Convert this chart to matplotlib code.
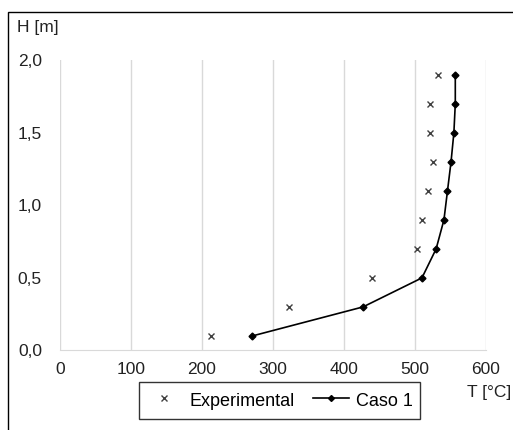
import matplotlib
matplotlib.use("Agg")
import matplotlib.pyplot as plt
from matplotlib.ticker import FuncFormatter, MultipleLocator
from matplotlib.lines import Line2D
from matplotlib.patches import Rectangle

plt.rcParams["font.family"] = ["Liberation Sans", "DejaVu Sans"]

# Height positions [m]
heights = [0.1, 0.3, 0.5, 0.7, 0.9, 1.1, 1.3, 1.5, 1.7, 1.9]
# Temperatures [°C]
t_experimental = [213, 323, 440, 503, 510, 519, 526, 522, 522, 532]
t_caso1 = [271, 427, 510, 530, 541, 546, 551, 555, 557, 557]

FS = 12.5

fig = plt.figure(figsize=(5.13, 4.30), dpi=100)
ax = fig.add_axes([0.117, 0.185, 0.830, 0.675])

ax.plot(t_caso1, heights, color="black", linewidth=1.2, marker="D",
        markersize=3.5, label="Caso 1", zorder=3)
ax.plot(t_experimental, heights, linestyle="none", marker="x",
        color="#404040", markersize=5, markeredgewidth=1.0,
        label="Experimental", zorder=3)

ax.set_xlim(0, 600)
ax.set_ylim(0, 2.0)
ax.xaxis.set_major_locator(MultipleLocator(100))
ax.yaxis.set_major_locator(MultipleLocator(0.5))
ax.yaxis.set_major_formatter(FuncFormatter(lambda v, p: f"{v:.1f}".replace(".", ",")))

ax.grid(axis="x", color="#d9d9d9", linewidth=1.0)
for s in ["top", "right", "left"]:
    ax.spines[s].set_visible(False)
ax.spines["bottom"].set_color("#d9d9d9")
ax.tick_params(axis="both", length=0, labelsize=FS, colors="#222222")
ax.tick_params(axis="x", pad=8)
ax.tick_params(axis="y", pad=13)

fig.text(0.033, 0.937, "H [m]", fontsize=FS, ha="left", va="center", color="#222222")
fig.text(0.910, 0.088, "T [°C]", fontsize=FS, ha="left", va="center", color="#222222")

# outer frame
fig.patches.append(Rectangle((8 / 513, -0.1), 1.2, (430 - 12) / 430 + 0.1,
                             transform=fig.transFigure, fill=False,
                             edgecolor="black", linewidth=1.0))

handles = [
    Line2D([], [], linestyle="none", marker="x", color="#404040",
           markersize=4, markeredgewidth=1.0),
    Line2D([], [], color="black", linewidth=1.2, marker="D", markersize=3),
]
leg = fig.legend(handles, ["Experimental", "Caso 1"], loc="center",
                 bbox_to_anchor=(0.545, 0.069), ncol=2, frameon=True,
                 fancybox=False, edgecolor="black", fontsize=13,
                 handlelength=2.0, handleheight=1.5, columnspacing=1.0,
                 handletextpad=0.4, borderpad=0.4)
leg.get_frame().set_linewidth(1.0)

fig.savefig("out.png", dpi=100)
